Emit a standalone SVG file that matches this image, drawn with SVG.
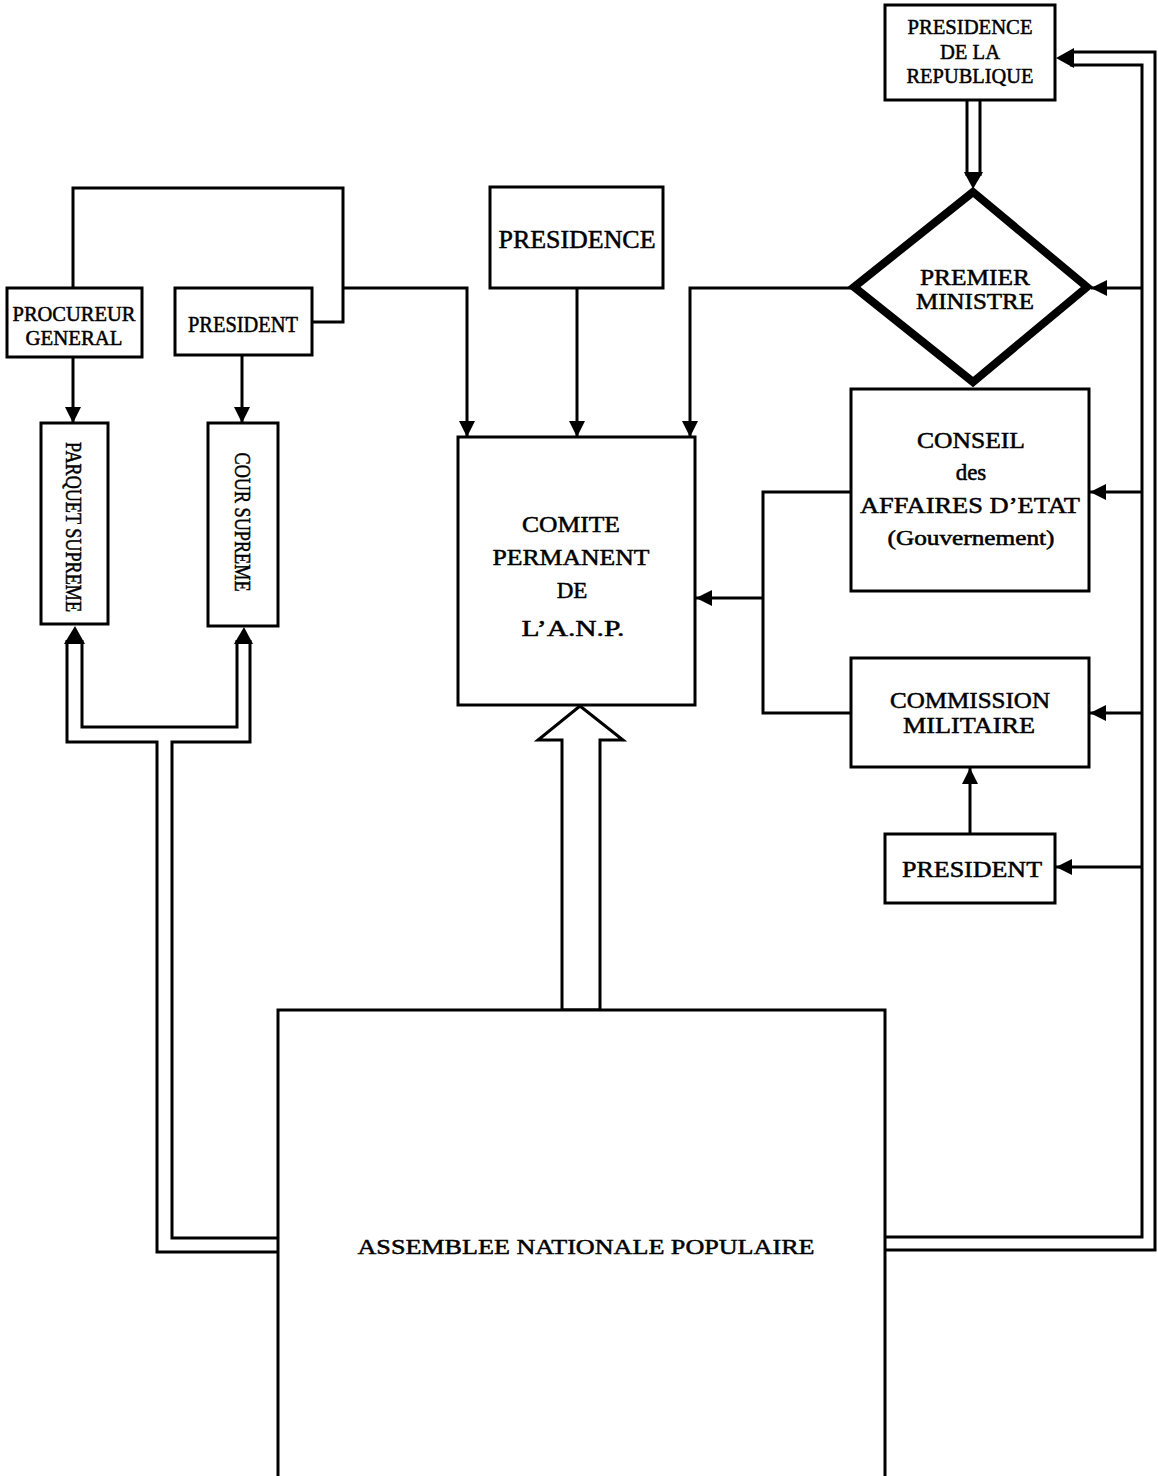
<svg xmlns="http://www.w3.org/2000/svg" width="1158" height="1476" viewBox="0 0 1158 1476">
<defs>
<marker id="ah" viewBox="0 0 16 16" refX="16" refY="8" markerWidth="16" markerHeight="16" markerUnits="userSpaceOnUse" orient="auto">
<path d="M0,0 L16,8 L0,16 z" fill="#000"/>
</marker>
</defs>
<style>
.box{fill:#fff;stroke:#000;stroke-width:3}
.ln{fill:none;stroke:#000;stroke-width:3}
.cap{fill:#000;stroke:none}
.t{font-family:"Liberation Serif","Times New Roman",serif;fill:#000;text-anchor:middle;stroke:#000;stroke-width:0.5}
</style>
<rect width="1158" height="1476" fill="#fff"/>

<g id="connectors">
<path class="ln" d="M73,288 V188 H343 V322 H312"/>
<path class="ln" d="M343,288 H467 V437" marker-end="url(#ah)"/>
<path class="ln" d="M73,357 V423" marker-end="url(#ah)"/>
<path class="ln" d="M242,355 V423" marker-end="url(#ah)"/>
<path class="ln" d="M577,288 V437" marker-end="url(#ah)"/>
<path class="ln" d="M852,288 H690 V437" marker-end="url(#ah)"/>
<path class="ln" d="M851,492 H763 V713 H851"/>
<path class="ln" d="M763,598 H696" marker-end="url(#ah)"/>
<path class="ln" d="M1142,288 H1091" marker-end="url(#ah)"/>
<path class="ln" d="M1142,492 H1090" marker-end="url(#ah)"/>
<path class="ln" d="M1142,713 H1090" marker-end="url(#ah)"/>
<path class="ln" d="M1142,867 H1056" marker-end="url(#ah)"/>
<path class="ln" d="M970,834 V768" marker-end="url(#ah)"/>
<path class="ln" d="M885,1250 H1155 V52 H1070"/>
<path class="ln" d="M885,1237 H1142 V65 H1070"/>
<polygon class="cap" points="1056,58 1074,48 1074,68"/>
<path class="ln" d="M967,100 V176"/>
<path class="ln" d="M980,100 V176"/>
<polygon class="cap" points="964,172 983,172 973,189"/>
<path class="ln" d="M278,1252 H157 V742 H67 V640"/>
<path class="ln" d="M82,640 V727 H237 V640"/>
<path class="ln" d="M250,640 V742 H172 V1238 H278"/>
<polygon class="cap" points="64,644 85,644 75,626"/>
<polygon class="cap" points="234,644 253,644 244,627"/>
<polygon class="box" points="562,1010 562,740 538,740 580,706 623,740 600,740 600,1010"/>
</g>

<g id="presidence-republique">
<rect class="box" x="885" y="5" width="170" height="95"/>
<text class="t" font-size="22" x="970" y="34" textLength="125" lengthAdjust="spacingAndGlyphs">PRESIDENCE</text>
<text class="t" font-size="22" x="970" y="59" textLength="60" lengthAdjust="spacingAndGlyphs">DE LA</text>
<text class="t" font-size="22" x="970" y="83" textLength="127" lengthAdjust="spacingAndGlyphs">REPUBLIQUE</text>
</g>

<g id="premier-ministre">
<polygon points="973,192 1087,287 973,382 854,287" fill="#fff" stroke="#000" stroke-width="8"/>
<text class="t" font-size="23" x="975" y="285" textLength="110" lengthAdjust="spacingAndGlyphs">PREMIER</text>
<text class="t" font-size="23" x="975" y="309" textLength="118" lengthAdjust="spacingAndGlyphs">MINISTRE</text>
</g>

<g id="conseil">
<rect class="box" x="851" y="389" width="238" height="202"/>
<text class="t" font-size="23" x="971" y="448" textLength="108" lengthAdjust="spacingAndGlyphs">CONSEIL</text>
<text class="t" font-size="23" x="971" y="480">des</text>
<text class="t" font-size="23" x="970" y="513" textLength="220" lengthAdjust="spacingAndGlyphs">AFFAIRES D’ETAT</text>
<text class="t" font-size="20" x="971" y="545" textLength="167" lengthAdjust="spacingAndGlyphs">(Gouvernement)</text>
</g>

<g id="commission">
<rect class="box" x="851" y="658" width="238" height="109"/>
<text class="t" font-size="23" x="970" y="708" textLength="160" lengthAdjust="spacingAndGlyphs">COMMISSION</text>
<text class="t" font-size="23" x="969" y="733" textLength="132" lengthAdjust="spacingAndGlyphs">MILITAIRE</text>
</g>

<g id="president-right">
<rect class="box" x="885" y="834" width="170" height="69"/>
<text class="t" font-size="23" x="972" y="877" textLength="140" lengthAdjust="spacingAndGlyphs">PRESIDENT</text>
</g>

<g id="comite">
<rect class="box" x="458" y="437" width="237" height="268"/>
<text class="t" font-size="23" x="571" y="532" textLength="98" lengthAdjust="spacingAndGlyphs">COMITE</text>
<text class="t" font-size="23" x="571" y="565" textLength="157" lengthAdjust="spacingAndGlyphs">PERMANENT</text>
<text class="t" font-size="23" x="572" y="598">DE</text>
<text class="t" font-size="23" x="573" y="636" textLength="103" lengthAdjust="spacingAndGlyphs">L’A.N.P.</text>
</g>

<g id="presidence">
<rect class="box" x="490" y="187" width="173" height="101"/>
<text class="t" font-size="25" x="577" y="248" textLength="157" lengthAdjust="spacingAndGlyphs">PRESIDENCE</text>
</g>

<g id="procureur">
<rect class="box" x="7" y="288" width="135" height="69"/>
<text class="t" font-size="21" x="74" y="321" textLength="123" lengthAdjust="spacingAndGlyphs">PROCUREUR</text>
<text class="t" font-size="21" x="74" y="345" textLength="97" lengthAdjust="spacingAndGlyphs">GENERAL</text>
</g>

<g id="president-left">
<rect class="box" x="175" y="288" width="137" height="67"/>
<text class="t" font-size="23" x="243" y="332" textLength="110" lengthAdjust="spacingAndGlyphs">PRESIDENT</text>
</g>

<g id="parquet">
<rect class="box" x="41" y="423" width="67" height="201"/>
<text class="t" font-size="24" transform="translate(66,527) rotate(90)" textLength="170" lengthAdjust="spacingAndGlyphs">PARQUET SUPREME</text>
</g>

<g id="cour">
<rect class="box" x="208" y="423" width="70" height="203"/>
<text class="t" font-size="23" transform="translate(235,522) rotate(90)" textLength="139" lengthAdjust="spacingAndGlyphs">COUR SUPREME</text>
</g>

<g id="anp">
<path d="M278,1476 V1010 H885 V1476" fill="#fff" stroke="#000" stroke-width="3"/>
<text class="t" font-size="22" x="586" y="1254" textLength="457" lengthAdjust="spacingAndGlyphs" stroke-width="0.2">ASSEMBLEE NATIONALE POPULAIRE</text>
</g>
</svg>
